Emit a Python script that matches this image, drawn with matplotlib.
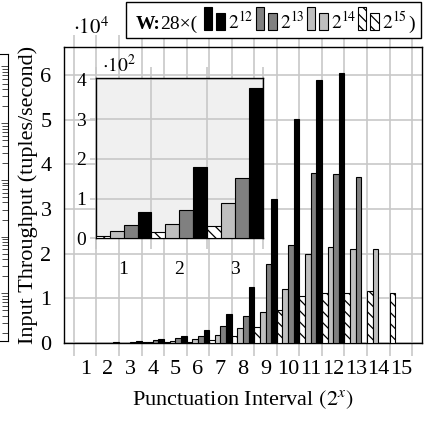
import numpy as np
import matplotlib
matplotlib.use("Agg")
import matplotlib.pyplot as plt
from matplotlib.patches import Rectangle

plt.rcParams['font.family'] = ['Liberation Serif', 'DejaVu Serif']
plt.rcParams['mathtext.fontset'] = 'stix'
plt.rcParams['hatch.linewidth'] = 0.9

# punctuation interval exponent (2^x)
intervals = np.arange(1, 16)
# input throughput (tuples/second) per window slide, W = 28 x (2^12 .. 2^15)
tp_2_15 = [6.5, 15, 31, 120, 200, 300, 700, 1500, 3600, 7300, 10500, 11100, 11300, 11700, 11300]
tp_2_14 = [17.5, 35, 90, 250, 400, 850, 1700, 3300, 7000, 12000, 19900, 21600, 21100, 21100, np.nan]
tp_2_13 = [33, 71, 152, 600, 1050, 1500, 3700, 6100, 17600, 22000, 38000, 37800, 37200, np.nan, np.nan]
tp_2_12 = [67, 180, 378, 800, 1600, 2900, 6400, 12600, 32200, 50200, 58900, 60400, np.nan, np.nan, np.nan]
series = [tp_2_15, tp_2_14, tp_2_13, tp_2_12]
labels = ['$2^{15}$', '$2^{14}$', '$2^{13}$', '$2^{12}$']
styles = [dict(color='white', hatch='\\\\\\'),
          dict(color='#bfbfbf', hatch=None),
          dict(color='#808080', hatch=None),
          dict(color='black', hatch=None)]
inset_n = 3

W, H = 425, 423
GRID = '#c8c8c8'


def px(x, y):
    return x / W, 1 - y / H


def draw_bars(ax, xs, scale, n):
    bw = 0.25
    for i, (vals, st) in enumerate(zip(series, styles)):
        v = np.array(vals[:n], dtype=float) / scale
        xx = xs[:n] + (i - 1.5) * bw
        ok = np.isfinite(v)
        ax.bar(xx[ok], v[ok], width=bw, facecolor=st['color'], edgecolor='black',
               linewidth=0.8, hatch=st['hatch'], zorder=3)


fig = plt.figure(figsize=(W / 100, H / 100), dpi=100)

# piece of the neighbouring plot cut off at the left edge
side = fig.add_axes([-40 / W, 1 - 341 / H, 48 / W, 287 / H])
side.set_yscale('log')
side.set_ylim(10 ** 0.16, 10 ** 5.22)
side.set_xticks([])
side.tick_params(axis='y', which='both', left=False, right=True, direction='in',
                 labelleft=False, labelright=False, width=0.5)
side.tick_params(axis='y', which='major', length=5)
side.tick_params(axis='y', which='minor', length=4)
for s in side.spines.values():
    s.set_linewidth(0.8)

# main chart
ax = fig.add_axes([64 / W, 1 - 343 / H, 358 / W, 296 / H])
draw_bars(ax, intervals.astype(float), 1e4, len(intervals))
ax.set_xlim(0.06, 15.94)
ax.set_ylim(0, 6.63)
ax.set_yticks(range(0, 7))
ax.set_xticks(intervals)
ax.set_xticks(np.arange(0.5, 16, 1), minor=True)
ax.tick_params(axis='x', which='major', length=0, pad=12, labelsize=16)
ax.tick_params(axis='x', which='minor', length=9, width=1.2, color=GRID,
               direction='out', top=True)
ax.tick_params(axis='y', length=0, pad=9, labelsize=16)
ax.set_axisbelow(True)
ax.grid(axis='y', which='major', color=GRID, linewidth=1.2)
ax.grid(axis='x', which='minor', color=GRID, linewidth=1.2)
for s in ax.spines.values():
    s.set_linewidth(1.0)
ax.set_xlabel('Punctuation Interval $(2^x)$', fontsize=16, labelpad=7)
ax.set_ylabel('Input Throughput (tuples/second)', fontsize=16, labelpad=2)
fig.text(*px(73, 34), r'$\cdot 10^4$', fontsize=15, va='baseline')

# zoomed inset for the first intervals
ins = fig.add_axes([95.7 / W, 1 - 238.3 / H, 167.3 / W, 160 / H])
ins.set_facecolor('#f0f0f0')
draw_bars(ins, intervals.astype(float), 1e2, inset_n)
ins.set_xlim(0.5, 3.5)
ins.set_ylim(0, 4.03)
ins.set_yticks(range(0, 5))
ins.set_xticks([1, 2, 3])
ins.set_xticks([0.5, 1.5, 2.5, 3.5], minor=True)
ins.tick_params(axis='x', which='major', length=0, pad=16, labelsize=14)
ins.tick_params(axis='x', which='minor', length=8, width=1.2, color=GRID,
                direction='out', top=True)
ins.tick_params(axis='y', length=4, width=1.2, color=GRID, pad=3, labelsize=14)
ins.set_axisbelow(True)
ins.grid(axis='y', which='major', color=GRID, linewidth=1.2)
ins.grid(axis='x', which='minor', color=GRID, linewidth=1.2)
for s in ins.spines.values():
    s.set_linewidth(1.0)
fig.text(*px(102, 72), r'$\cdot 10^2$', fontsize=14, va='baseline')

# legend box
x0, y0 = px(126, 38)
fig.patches.append(Rectangle((x0, y0), 295 / W, 36 / H, transform=fig.transFigure,
                             facecolor='white', edgecolor='black', linewidth=1.0))
fig.text(*px(136, 29), 'W:', fontsize=14, weight='bold', va='baseline')
fig.text(*px(160, 29), '28\u00d7(', fontsize=14, va='baseline')
lx = [204, 256, 307, 358]
for k, i in enumerate([3, 2, 1, 0]):
    st = styles[i]
    bx, by = px(lx[k], 30)
    fig.patches.append(Rectangle((bx, by), 8 / W, 23 / H, transform=fig.transFigure,
                                 facecolor=st['color'], edgecolor='black',
                                 linewidth=0.8, hatch=st['hatch']))
    sx, sy = px(lx[k] + 12, 30)
    fig.patches.append(Rectangle((sx, sy), 9 / W, 17 / H, transform=fig.transFigure,
                                 facecolor=st['color'], edgecolor='black',
                                 linewidth=0.8, hatch=st['hatch']))
    fig.text(*px(lx[k] + 24, 29), labels[i], fontsize=14, va='baseline')
fig.text(*px(408, 29), ')', fontsize=14, va='baseline')

fig.savefig('out.png', dpi=100)
